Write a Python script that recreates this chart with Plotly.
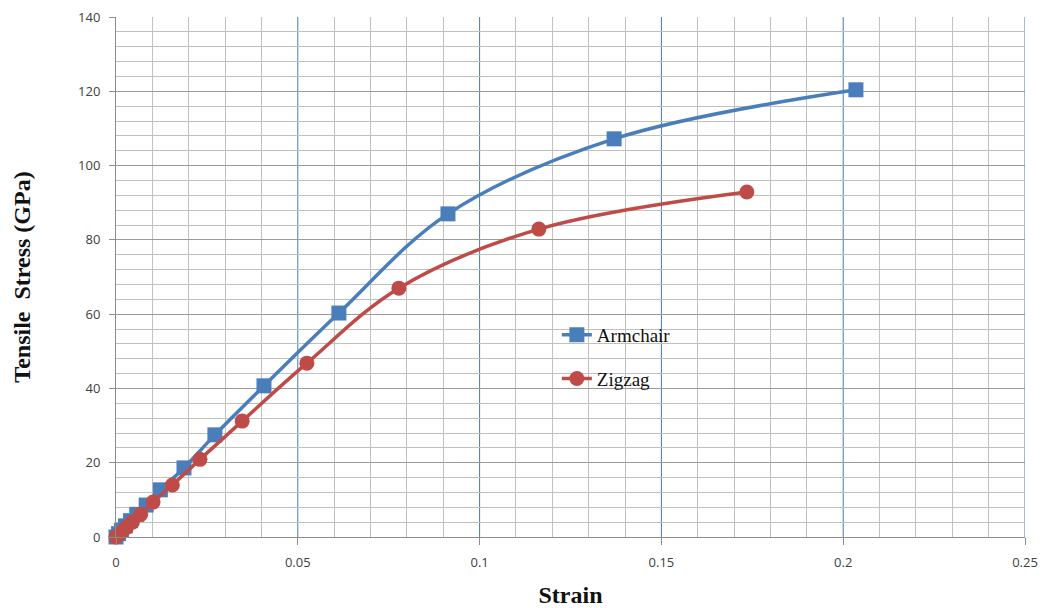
import plotly.graph_objects as go

# Armchair direction: strain vs tensile stress (GPa)
armchair_strain = [0, 0.0007, 0.0015, 0.0026, 0.0040, 0.0057, 0.0083, 0.0122,
                   0.0187, 0.0272, 0.0407, 0.0613, 0.0913, 0.1370, 0.2035]
armchair_stress = [0, 0.9, 1.8, 3.0, 4.4, 6.1, 8.6, 12.7,
                   18.6, 27.5, 40.7, 60.3, 87.0, 107.2, 120.4]

# Zigzag direction
zigzag_strain = [0, 0.0008, 0.0017, 0.0029, 0.0045, 0.0068, 0.0102, 0.0155,
                 0.0231, 0.0347, 0.0525, 0.0778, 0.1163, 0.1735]
zigzag_stress = [0, 0.7, 1.5, 2.6, 4.0, 6.1, 9.4, 14.0,
                 20.9, 31.2, 46.8, 67.0, 82.9, 92.9]

x_ticks = [0, 0.05, 0.1, 0.15, 0.2, 0.25]
x_tick_text = ["0", "0.05", "0.1", "0.15", "0.2", "0.25"]
y_ticks = [0, 20, 40, 60, 80, 100, 120, 140]

# minor grid positions, skipping the major ones
x_minor = [i / 100 for i in range(26) if i % 5]
y_minor = [v for v in range(0, 141, 4) if v % 20]

BLUE = "#4a7ebb"
RED = "#be4b48"
GRID_BLUE = "#4a78b0"
TICK_FONT = dict(family="Open Sans, DejaVu Sans, sans-serif", size=13, color="#404040")
SERIF_BOLD = "Liberation Serif, Times New Roman, serif"

fig = go.Figure()

# major vertical grid lines in blue, under the data
for xv in x_ticks[1:]:
    fig.add_vline(x=xv, line=dict(color=GRID_BLUE, width=1), layer="below")

fig.add_trace(go.Scatter(
    x=armchair_strain, y=armchair_stress, name="Armchair",
    mode="lines+markers", legendgroup="a", cliponaxis=False,
    line=dict(color=BLUE, width=3.5, shape="spline", smoothing=1.0),
    marker=dict(symbol="square", size=15, color=BLUE),
))
fig.add_trace(go.Scatter(
    x=zigzag_strain, y=zigzag_stress, name="Zigzag",
    mode="lines+markers", legendgroup="z", cliponaxis=False,
    line=dict(color=RED, width=3.5, shape="spline", smoothing=1.0),
    marker=dict(symbol="circle", size=15, color=RED),
))

fig.update_layout(
    width=1043, height=608,
    margin=dict(l=116, r=18, t=17, b=71),
    paper_bgcolor="white", plot_bgcolor="white",
    showlegend=True,
    legend=dict(
        x=0.485, y=0.425, xanchor="left", yanchor="top",
        bgcolor="rgba(0,0,0,0)", tracegroupgap=16,
        font=dict(family="Liberation Serif, Times New Roman, serif", size=19, color="#111"),
    ),
    xaxis=dict(
        range=[0, 0.25], tickvals=x_ticks, ticktext=x_tick_text,
        automargin=False,
        showgrid=False,
        minor=dict(tickmode="array", tickvals=x_minor, showgrid=True,
                   gridcolor="#c0c0c0", gridwidth=1),
        showline=True, linecolor="#8c8c8c", linewidth=1,
        ticks="outside", ticklen=7, tickcolor="#8c8c8c",
        ticklabelstandoff=6,
        tickfont=TICK_FONT, zeroline=False,
        title=dict(text="<b>Strain</b>", standoff=17,
                   font=dict(family=SERIF_BOLD, size=24, color="#111")),
    ),
    yaxis=dict(
        range=[0, 140], tickvals=y_ticks,
        automargin=False,
        showgrid=True, gridcolor="#9a9a9a", gridwidth=1,
        minor=dict(tickmode="array", tickvals=y_minor, showgrid=True,
                   gridcolor="#c0c0c0", gridwidth=1),
        showline=True, linecolor="#8c8c8c", linewidth=1,
        ticks="outside", ticklen=6, tickcolor="#8c8c8c",
        ticklabelstandoff=6,
        tickfont=TICK_FONT, zeroline=False,
        title=dict(text="<b>Tensile  Stress (GPa)</b>", standoff=40,
                   font=dict(family=SERIF_BOLD, size=24, color="#111")),
    ),
)

fig.write_html("out.html")
